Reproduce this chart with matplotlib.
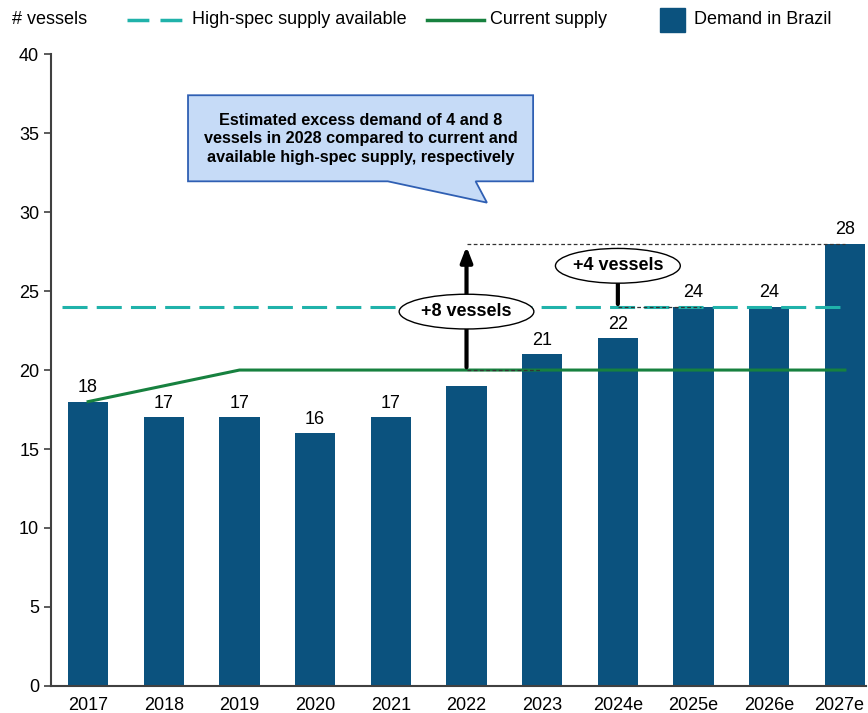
import numpy as np
import matplotlib.pyplot as plt
from matplotlib.patches import Ellipse, Polygon, Rectangle
from matplotlib.lines import Line2D
from matplotlib.transforms import ScaledTranslation

plt.rcParams['font.family'] = ['Liberation Sans', 'DejaVu Sans']

years = ['2017', '2018', '2019', '2020', '2021', '2022', '2023', '2024e', '2025e', '2026e', '2027e']
demand = [18, 17, 17, 16, 17, 19, 21, 22, 24, 24, 28]
show_label = [True, True, True, True, True, False, True, True, True, True, True]
current_supply = [18, 19, 20, 20, 20, 20, 20, 20, 20, 20, 20]
highspec_supply = 24

bar_col = '#0b527e'
green = '#17813f'
teal = '#20b2aa'

W, H = 868, 713
fig = plt.figure(figsize=(W / 100, H / 100), dpi=100)
ax = fig.add_axes([0.0588, 0.038, 0.939, 0.886])

x = np.arange(len(years))
ax.bar(x, demand, width=0.53, color=bar_col, zorder=2)
for xi, v, s in zip(x, demand, show_label):
    if s:
        ax.text(xi, v + 0.35, str(v), ha='center', va='bottom', fontsize=13)

ax.plot(x, current_supply, color=green, lw=2.2, zorder=3)
ax.plot([-0.35, 10], [highspec_supply] * 2, color=teal, lw=2.2, dashes=(8.2, 3.0), zorder=3)

# gap markers
ax.plot([5, 10], [28, 28], color='#333333', lw=0.9, ls=(0, (3, 2)), zorder=4)
ax.plot([5, 6], [20, 20], color='#333333', lw=0.9, ls=(0, (3, 2)), zorder=4)
ax.plot([7, 8.1], [24, 24], color='#333333', lw=0.9, ls=(0, (3, 2)), zorder=4)
ax.annotate('', xy=(5, 28), xytext=(5, 20),
            arrowprops=dict(arrowstyle='-|>,head_length=0.9,head_width=0.35', color='black', lw=3), zorder=5)
ax.annotate('', xy=(7, 28), xytext=(7, 24),
            arrowprops=dict(arrowstyle='-|>,head_length=0.2,head_width=0.15', color='black', lw=3), zorder=5)
ax.add_patch(Ellipse((5, 23.7), 1.78, 2.2, facecolor='white', edgecolor='black', lw=1, zorder=6))
ax.text(5, 23.7, '+8 vessels', ha='center', va='center', fontsize=13, fontweight='bold', zorder=7)
ax.add_patch(Ellipse((7, 26.6), 1.65, 2.2, facecolor='white', edgecolor='black', lw=1, zorder=6))
ax.text(7, 26.6, '+4 vessels', ha='center', va='center', fontsize=13, fontweight='bold', zorder=7)

# callout
callout = [(1.32, 37.4), (5.88, 37.4), (5.88, 31.95), (5.12, 31.95), (5.27, 30.6),
           (3.96, 31.95), (1.32, 31.95)]
ax.add_patch(Polygon(callout, closed=True, facecolor='#c6dbf7', edgecolor='#2f5fb3', lw=1.3, zorder=6))
ax.text(3.6, 34.65, 'Estimated excess demand of 4 and 8\nvessels in 2028 compared to current and\navailable high-spec supply, respectively',
        ha='center', va='center', fontsize=11.7, fontweight='bold', linespacing=1.3, zorder=7)

ax.set_xlim(-0.49, 10.28)
ax.set_ylim(0, 40)
ax.set_yticks(range(0, 41, 5))
ax.set_xticks(x)
ax.set_xticklabels(years)
ax.tick_params(axis='y', labelsize=13, length=5, color='#404040', width=1.2)
ax.tick_params(axis='x', labelsize=13, length=0, pad=8)
last = ax.get_xticklabels()[-1]
last.set_transform(last.get_transform() + ScaledTranslation(-4 / 72, 0, fig.dpi_scale_trans))
for s in ['top', 'right']:
    ax.spines[s].set_visible(False)
for s in ['left', 'bottom']:
    ax.spines[s].set_color('#404040')
    ax.spines[s].set_linewidth(1.5)

# header / legend drawn in figure pixels
ly = 1 - 20 / H
fig.text(12 / W, ly, '# vessels', fontsize=13, va='center')
fig.add_artist(Line2D([127 / W, 183 / W], [ly, ly], color=teal, lw=2.5, dashes=(6.3, 3.2)))
fig.text(192 / W, ly, 'High-spec supply available', fontsize=13, va='center')
fig.add_artist(Line2D([427 / W, 484 / W], [ly, ly], color=green, lw=2.5))
fig.text(490 / W, ly, 'Current supply', fontsize=13, va='center')
fig.add_artist(Rectangle((660 / W, 1 - 32 / H), 25 / W, 24 / H, color=bar_col))
fig.text(694 / W, ly, 'Demand in Brazil', fontsize=13, va='center')

fig.savefig('out.png', dpi=100)
